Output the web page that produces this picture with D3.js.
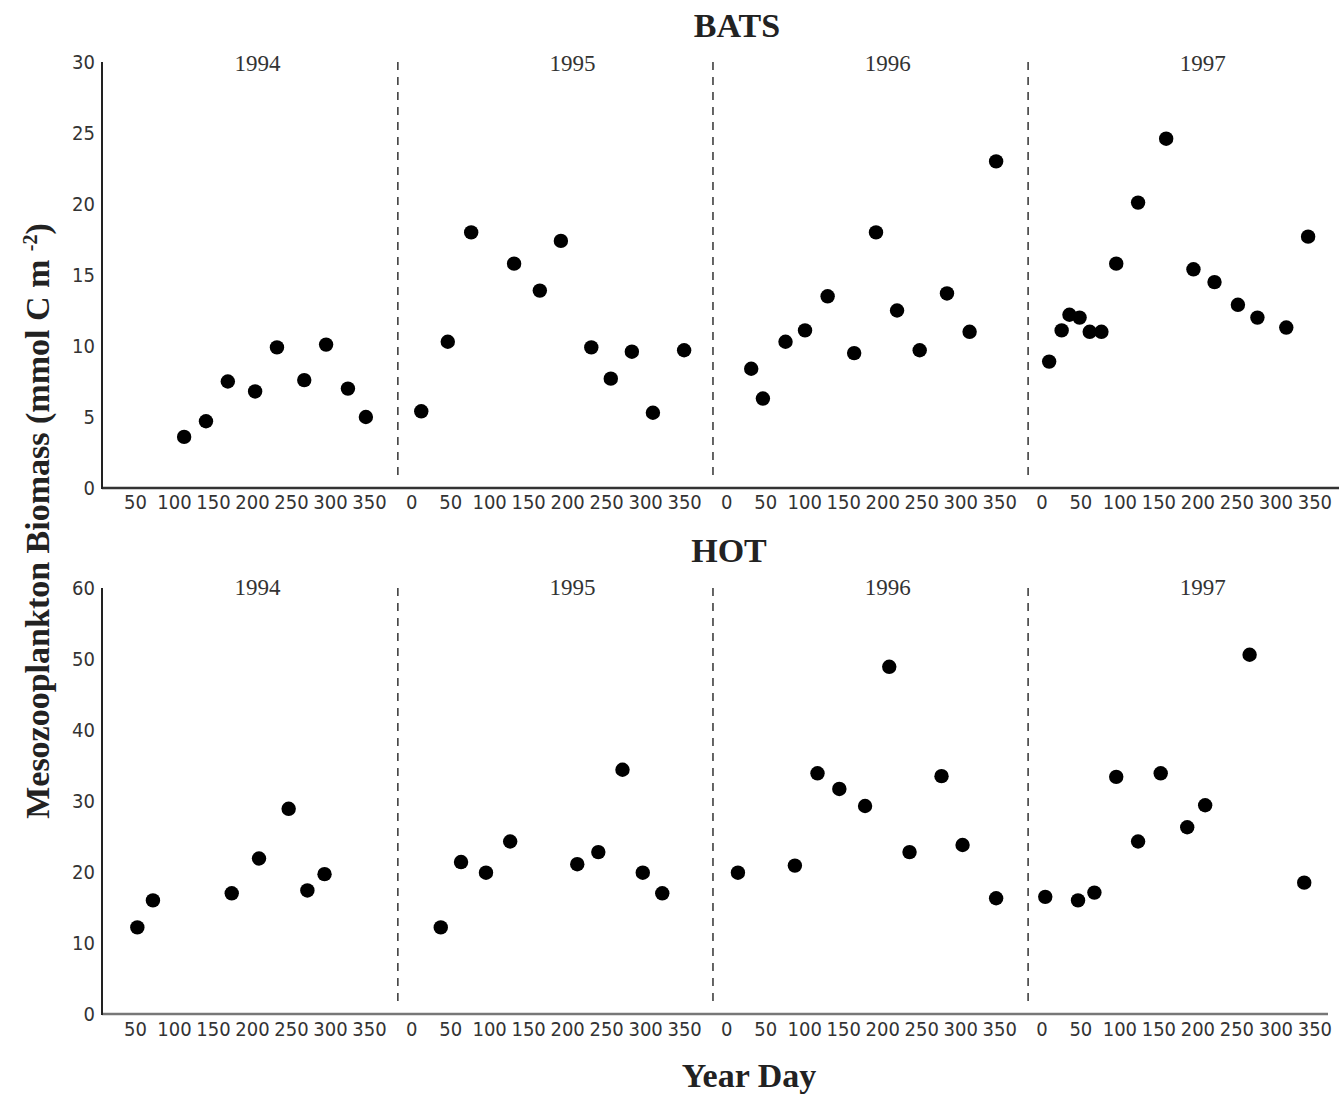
<!DOCTYPE html>
<html>
<head>
<meta charset="utf-8">
<script src="https://cdn.jsdelivr.net/npm/d3@7"></script>
<style>
  body { margin: 0; background: #fff; }
  .tick text { font-family: "DejaVu Sans Condensed", "DejaVu Sans", sans-serif; font-stretch: condensed; font-size: 20px; fill: #333; }
  .title { font-family: "Liberation Serif", "Times New Roman", serif; font-weight: bold; font-size: 34px; fill: #222; }
  .year { font-family: "Liberation Serif", "Times New Roman", serif; font-size: 23px; fill: #333; }
</style>
</head>
<body>
<div class="js-container"></div>
<script>
// years shown side by side, each gets its own slot on the day axis
var years = [1994, 1995, 1996, 1997];
var dayTicks = [0, 50, 100, 150, 200, 250, 300, 350];
var batsYTicks = [0, 5, 10, 15, 20, 25, 30];
var hotYTicks = [0, 10, 20, 30, 40, 50, 60];

// BATS: year day and biomass (mmol C m-2), one array per year
var batsDay = [
  [113, 141, 169, 204, 232, 267, 295, 323, 346],
  [13, 47, 77, 132, 165, 192, 231, 256, 283, 310, 350],
  [32, 47, 76, 101, 130, 164, 192, 219, 248, 283, 312, 346],
  [10, 26, 36, 49, 62, 77, 96, 124, 160, 195, 222, 252, 277, 314, 342]
];
var batsBiomass = [
  [3.6, 4.7, 7.5, 6.8, 9.9, 7.6, 10.1, 7.0, 5.0],
  [5.4, 10.3, 18.0, 15.8, 13.9, 17.4, 9.9, 7.7, 9.6, 5.3, 9.7],
  [8.4, 6.3, 10.3, 11.1, 13.5, 9.5, 18.0, 12.5, 9.7, 13.7, 11.0, 23.0],
  [8.9, 11.1, 12.2, 12.0, 11.0, 11.0, 15.8, 20.1, 24.6, 15.4, 14.5, 12.9, 12.0, 11.3, 17.7]
];

// HOT
var hotDay = [
  [53, 73, 174, 209, 247, 271, 293],
  [38, 64, 96, 127, 213, 240, 271, 297, 322],
  [15, 88, 117, 145, 178, 209, 235, 276, 303, 346],
  [5, 47, 68, 96, 124, 153, 187, 210, 267, 337]
];
var hotBiomass = [
  [12.2, 16.0, 17.0, 21.9, 28.9, 17.4, 19.7],
  [12.2, 21.4, 19.9, 24.3, 21.1, 22.8, 34.4, 19.9, 17.0],
  [19.9, 20.9, 33.9, 31.7, 29.3, 48.9, 22.8, 33.5, 23.8, 16.3],
  [16.5, 16.0, 17.1, 33.4, 24.3, 33.9, 26.3, 29.4, 50.6, 18.5]
];

var SLOT = 404;        // axis units given to one year
var W = 1339, H = 1099;
var left = 102;

var svg = d3.select('.js-container').append('svg')
    .attr('width', W)
    .attr('height', H);

var x = d3.scaleLinear()
    .domain([0, years.length * SLOT])
    .range([96, 96 + 0.78 * years.length * SLOT]);

function drawPanel(name, days, values, yTicks, yTop, yBottom, axisRight, axisColor, opts) {
  var y = d3.scaleLinear()
      .domain([0, d3.max(yTicks)])
      .range([yBottom, yTop]);

  var g = svg.append('g');

  // station title
  g.append('text')
      .attr('class', 'title')
      .attr('x', opts.titleX)
      .attr('y', opts.titleY)
      .attr('text-anchor', 'middle')
      .text(name);

  // year separators
  for (var k = 1; k < years.length; k++) {
    g.append('line')
        .attr('x1', x(k * SLOT - 17)).attr('x2', x(k * SLOT - 17))
        .attr('y1', yTop).attr('y2', yBottom - 12)
        .attr('stroke', '#333')
        .attr('stroke-width', 1.5)
        .attr('stroke-dasharray', '8,7');
  }

  // year labels
  years.forEach(function(yr, i) {
    g.append('text')
        .attr('class', 'year')
        .attr('x', x(i * SLOT + 207))
        .attr('y', yTop + opts.yearDy)
        .attr('text-anchor', 'middle')
        .text(yr);
  });

  // y axis
  var yAxis = d3.axisLeft(y)
      .tickValues(yTicks)
      .tickSize(0)
      .tickPadding(7);
  var ya = g.append('g')
      .attr('transform', 'translate(' + left + ',0)')
      .call(yAxis);
  ya.select('.domain').remove();

  // x axis: cumulative days, labelled by day of year
  var tickVals = [];
  years.forEach(function(yr, i) {
    dayTicks.forEach(function(t) {
      if (i == 0 && t == 0) return;  // first year starts at the y axis
      tickVals.push(i * SLOT + t);
    });
  });
  var xAxis = d3.axisBottom(x)
      .tickValues(tickVals)
      .tickFormat(function(d) { return d % SLOT; })
      .tickSize(0)
      .tickPadding(opts.xPad);
  var xa = g.append('g')
      .attr('transform', 'translate(0,' + yBottom + ')')
      .call(xAxis);
  xa.select('.domain').remove();

  g.append('line')
      .attr('x1', left).attr('x2', axisRight)
      .attr('y1', yBottom).attr('y2', yBottom)
      .attr('stroke', axisColor)
      .attr('stroke-width', 2.5);
  g.append('line')
      .attr('x1', left).attr('x2', left)
      .attr('y1', yTop).attr('y2', yBottom + 1)
      .attr('stroke', '#222')
      .attr('stroke-width', 2);

  // points
  years.forEach(function(yr, i) {
    var pts = days[i].map(function(d, j) { return {day: i * SLOT + d, v: values[i][j]}; });
    g.selectAll(null)
        .data(pts)
      .enter().append('circle')
        .attr('cx', function(d) { return x(d.day); })
        .attr('cy', function(d) { return y(d.v); })
        .attr('r', 7.2)
        .attr('fill', '#000');
  });
}

drawPanel('BATS', batsDay, batsBiomass, batsYTicks, 62, 488, 1339, '#333',
          {titleX: 737, titleY: 37, yearDy: 9, xPad: 7});
drawPanel('HOT', hotDay, hotBiomass, hotYTicks, 588, 1014, 1328, '#777',
          {titleX: 729, titleY: 562, yearDy: 7, xPad: 8});

// shared axis titles
svg.append('text')
    .attr('class', 'title')
    .attr('transform', 'translate(49,521) rotate(-90)')
    .attr('text-anchor', 'middle')
    .html('Mesozooplankton Biomass (mmol C m <tspan dy="-12" font-size="20">-2</tspan><tspan dy="12">)</tspan>');

svg.append('text')
    .attr('class', 'title')
    .attr('x', 749)
    .attr('y', 1087)
    .attr('text-anchor', 'middle')
    .text('Year Day');
</script>
</body>
</html>
